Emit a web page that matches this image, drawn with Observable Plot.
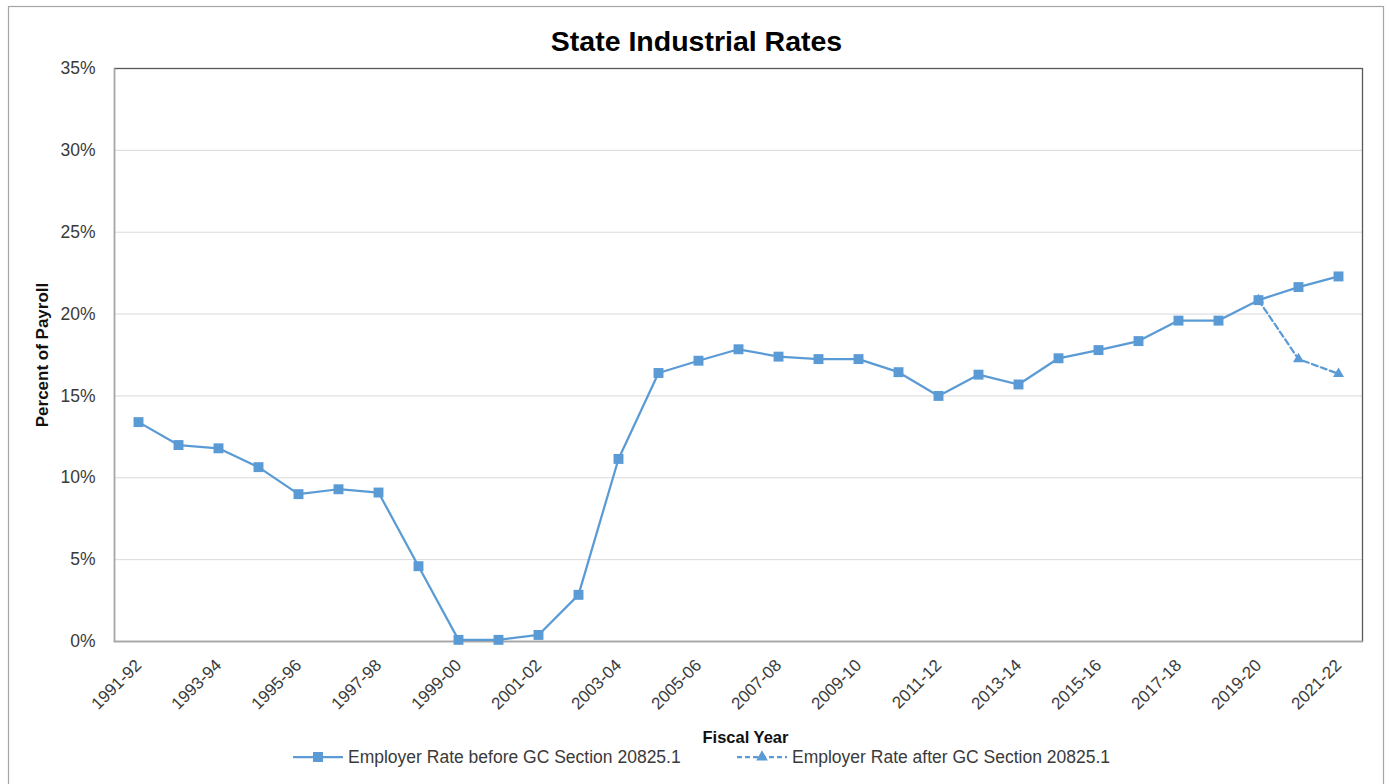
<!DOCTYPE html>
<html>
<head>
<meta charset="utf-8">
<script src="https://cdn.jsdelivr.net/npm/d3@7"></script>
<script src="https://cdn.jsdelivr.net/npm/@observablehq/plot@0.6"></script>
<style>
  html, body { margin: 0; padding: 0; background: #fff; }
  #chart { position: relative; width: 1389px; height: 784px; overflow: hidden; }
</style>
</head>
<body>
<div id="chart"></div>
<script>
// Fiscal years on the category axis
const fiscalYears = [
  "1991-92", "1992-93", "1993-94", "1994-95", "1995-96", "1996-97", "1997-98", "1998-99",
  "1999-00", "2000-01", "2001-02", "2002-03", "2003-04", "2004-05", "2005-06", "2006-07",
  "2007-08", "2008-09", "2009-10", "2010-11", "2011-12", "2012-13", "2013-14", "2014-15",
  "2015-16", "2016-17", "2017-18", "2018-19", "2019-20", "2020-21", "2021-22"
];

// Employer rate before GC Section 20825.1 (% of payroll)
const rateBefore = [
  13.4, 12.0, 11.8, 10.65, 9.0, 9.3, 9.1, 4.6,
  0.1, 0.1, 0.4, 2.85, 11.15, 16.4, 17.15, 17.85,
  17.4, 17.25, 17.25, 16.45, 15.0, 16.3, 15.7, 17.3,
  17.8, 18.35, 19.6, 19.6, 20.85, 21.65, 22.3
];

// Employer rate after GC Section 20825.1 (% of payroll)
const afterYears = ["2019-20", "2020-21", "2021-22"];
const rateAfter = [20.85, 17.25, 16.35];

// Axis labels
const xTickLabels = [
  "1991-92", "1993-94", "1995-96", "1997-98", "1999-00", "2001-02", "2003-04", "2005-06",
  "2007-08", "2009-10", "2011-12", "2013-14", "2015-16", "2017-18", "2019-20", "2021-22"
];
const yTicks = [0, 5, 10, 15, 20, 25, 30, 35];
const yGrid = [5, 10, 15, 20, 25, 30];

const seriesNames = [
  "Employer Rate before GC Section 20825.1",
  "Employer Rate after GC Section 20825.1"
];
const chartTitle = "State Industrial Rates";
const xTitle = "Fiscal Year";
const yTitle = "Percent of Payroll";

const before = fiscalYears.map((year, i) => ({year, rate: rateBefore[i]}));
const after = afterYears.map((year, i) => ({year, rate: rateAfter[i]}));

const blue = "#5b9bd5";
const ink = "#3a3a3a";
const font = "'Liberation Sans Narrow', 'Arial Narrow', 'Liberation Sans', Arial, sans-serif";

const plot = Plot.plot({
  width: 1389,
  height: 784,
  marginLeft: 114,
  marginRight: 27,
  marginTop: 68,
  marginBottom: 143,
  style: {fontFamily: font, background: "#fff", overflow: "visible"},
  x: {type: "point", domain: fiscalYears, padding: 0.5, axis: null},
  y: {domain: [0, 35], axis: null},
  marks: [
    Plot.gridY(yGrid, {stroke: "#d9d9d9", strokeOpacity: 1, strokeWidth: 1}),
    Plot.frame({stroke: "#595959", strokeWidth: 1.3}),
    Plot.frame({anchor: "left", stroke: "#a6a6a6", strokeWidth: 1.3}),
    Plot.frame({anchor: "bottom", stroke: "#a6a6a6", strokeWidth: 1.3}),
    Plot.axisY(yTicks, {
      label: null, tickSize: 0, tickPadding: 19, tickFormat: d => d + "%",
      fontSize: 17.5, fill: ink
    }),
    Plot.text(xTickLabels, {
      x: d => d, frameAnchor: "bottom", rotate: -45,
      textAnchor: "end", lineAnchor: "middle", dy: 21,
      fontSize: 17, fill: ink
    }),
    Plot.text([chartTitle], {
      frameAnchor: "top", lineAnchor: "bottom", dx: -42, dy: -18,
      fontSize: 28.5, fontWeight: "bold", fill: "#000"
    }),
    Plot.text([xTitle], {
      frameAnchor: "bottom", lineAnchor: "bottom", dx: 7, dy: 101,
      fontSize: 16.5, fontWeight: "bold", fill: "#111"
    }),
    Plot.text([yTitle], {
      frameAnchor: "left", rotate: -90, textAnchor: "middle", lineAnchor: "middle", dx: -72,
      fontSize: 17, fontWeight: "bold", fill: "#111"
    }),
    Plot.line(after, {x: "year", y: "rate", stroke: blue, strokeWidth: 2.25, strokeDasharray: "6,3.5"}),
    Plot.line(before, {x: "year", y: "rate", stroke: blue, strokeWidth: 2.25}),
    Plot.dot(after, {x: "year", y: "rate", symbol: "triangle", r: 4.1, fill: blue, stroke: "none"}),
    Plot.dot(before, {x: "year", y: "rate", symbol: "square", r: 5.6, fill: blue, stroke: "none"})
  ]
});

document.getElementById("chart").appendChild(plot);

// Legend beneath the x-axis title, plus the outer chart border
const svg = d3.select(plot);
const legendItems = [
  {name: seriesNames[0], x0: 293, dash: null, symbol: d3.symbolSquare, size: 100},
  {name: seriesNames[1], x0: 737, dash: "5,3", symbol: d3.symbolTriangle, size: 60}
];
const legend = svg.append("g")
  .attr("font-family", font)
  .attr("text-anchor", "start");
legendItems.forEach(item => {
  const g = legend.append("g").attr("transform", `translate(${item.x0},757)`);
  g.append("line")
    .attr("x1", 0).attr("x2", 50).attr("y1", 0).attr("y2", 0)
    .attr("stroke", blue).attr("stroke-width", 2.25)
    .attr("stroke-dasharray", item.dash);
  g.append("path")
    .attr("transform", "translate(25,0)")
    .attr("d", d3.symbol(item.symbol, item.size)())
    .attr("fill", blue);
  g.append("text")
    .attr("x", 55).attr("y", 6)
    .attr("font-size", 17.5).attr("fill", ink)
    .text(item.name);
});

svg.append("rect")
  .attr("x", 8.5).attr("y", 6.5)
  .attr("width", 1375).attr("height", 800)
  .attr("fill", "none").attr("stroke", "#a6a6a6").attr("stroke-width", 1.2);
</script>
</body>
</html>
